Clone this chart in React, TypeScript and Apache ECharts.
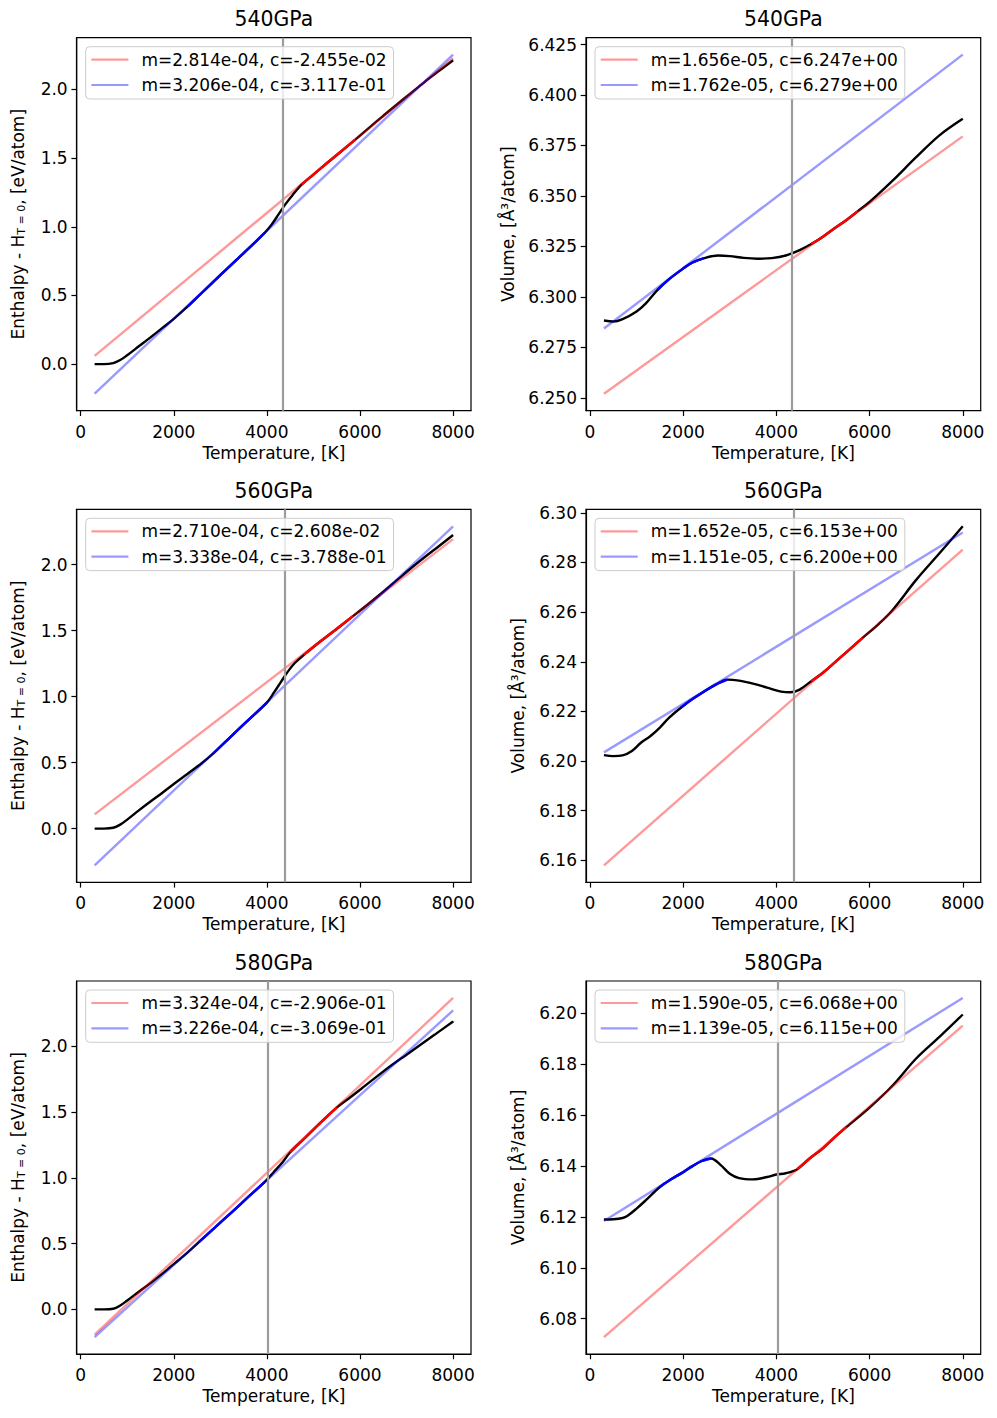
import React, { useEffect, useRef } from "react";
import * as echarts from "echarts";

// ---------- tick labels ----------
const xTicks = [0, 2000, 4000, 6000, 8000];
const hTicks = [0, 0.5, 1.0, 1.5, 2.0];
const v540Ticks = [6.25, 6.275, 6.3, 6.325, 6.35, 6.375, 6.4, 6.425];
const v560Ticks = [6.16, 6.18, 6.2, 6.22, 6.24, 6.26, 6.28, 6.3];
const v580Ticks = [6.08, 6.1, 6.12, 6.14, 6.16, 6.18, 6.2];

const titles = ["540GPa", "560GPa", "580GPa"];

// ---------- 540 GPa ----------
const temp540H = [300, 500, 700, 850, 1000, 1250, 1500, 1750, 2000, 2300, 2600, 3000, 3400, 3700, 3950, 4100, 4250, 4400, 4550, 4750, 5000, 5300, 5600, 5900, 6200, 6500, 6800, 7100, 7400, 7700, 8000];
const enth540 = [0.0, 0.0, 0.008, 0.03, 0.065, 0.13, 0.195, 0.262, 0.33, 0.42, 0.518, 0.648, 0.776, 0.872, 0.955, 1.015, 1.09, 1.165, 1.23, 1.308, 1.38, 1.466, 1.55, 1.635, 1.722, 1.808, 1.892, 1.975, 2.057, 2.135, 2.212];
const temp540V = [300, 500, 700, 1000, 1200, 1450, 1700, 2000, 2200, 2450, 2750, 3000, 3300, 3600, 3900, 4200, 4500, 4750, 5000, 5250, 5500, 5750, 6000, 6500, 7000, 7500, 8000];
const vol540 = [6.2883, 6.2878, 6.289, 6.2928, 6.2968, 6.3035, 6.3088, 6.314, 6.317, 6.3192, 6.3205, 6.3202, 6.3193, 6.3189, 6.3192, 6.3205, 6.3232, 6.3262, 6.3298, 6.334, 6.338, 6.3425, 6.347, 6.3577, 6.3692, 6.38, 6.3882];

// ---------- 560 GPa ----------
const temp560H = [300, 500, 700, 850, 1000, 1250, 1500, 1750, 2000, 2300, 2600, 2850, 3200, 3600, 4000, 4150, 4300, 4450, 4600, 4800, 5100, 5450, 5850, 6200, 6500, 6800, 7100, 7400, 7700, 8000];
const enth560 = [0.0, 0.0, 0.006, 0.03, 0.068, 0.138, 0.205, 0.27, 0.338, 0.416, 0.495, 0.57, 0.688, 0.822, 0.955, 1.03, 1.11, 1.19, 1.255, 1.318, 1.405, 1.5, 1.61, 1.708, 1.795, 1.885, 1.975, 2.06, 2.142, 2.225];
const temp560V = [300, 500, 700, 900, 1100, 1300, 1500, 1700, 1950, 2200, 2450, 2700, 2950, 3200, 3500, 3800, 4100, 4300, 4500, 4750, 5000, 5250, 5500, 5850, 6200, 6500, 7000, 7500, 8000];
const vol560 = [6.2024, 6.202, 6.2023, 6.2041, 6.2075, 6.2101, 6.2135, 6.2175, 6.2215, 6.225, 6.228, 6.2308, 6.2328, 6.2324, 6.2312, 6.2296, 6.228, 6.2277, 6.2288, 6.2322, 6.2356, 6.2397, 6.2438, 6.2496, 6.2553, 6.261, 6.273, 6.2837, 6.2946];

// ---------- 580 GPa ----------
const temp580H = [300, 500, 700, 850, 1000, 1250, 1500, 1750, 2000, 2250, 2550, 2900, 3250, 3600, 3950, 4150, 4350, 4500, 4800, 5100, 5500, 5800, 6100, 6400, 6700, 7000, 7300, 7600, 8000];
const enth580 = [0.0, 0.0, 0.005, 0.03, 0.068, 0.135, 0.2, 0.27, 0.345, 0.418, 0.515, 0.628, 0.74, 0.855, 0.968, 1.045, 1.125, 1.195, 1.298, 1.402, 1.535, 1.615, 1.698, 1.782, 1.862, 1.937, 2.013, 2.088, 2.19];
const temp580V = [300, 500, 700, 800, 1000, 1200, 1500, 1750, 2000, 2200, 2400, 2600, 2800, 3000, 3200, 3500, 3800, 4000, 4200, 4450, 4700, 5000, 5250, 5500, 6000, 6500, 7000, 7500, 8000];
const vol580 = [6.119, 6.1191, 6.1196, 6.1204, 6.1233, 6.1266, 6.1318, 6.1349, 6.1376, 6.14, 6.142, 6.143, 6.1405, 6.137, 6.1353, 6.1348, 6.1357, 6.1367, 6.1372, 6.1388, 6.1428, 6.147, 6.1513, 6.1553, 6.163, 6.1718, 6.1823, 6.1908, 6.1996];

// ---------- fit lines (endpoints at 300 K and 8000 K) ----------
const fitT = [300, 8000];
const redFit540H = [0.0599, 2.2267];
const blueFit540H = [-0.2155, 2.2531];
const redFit540V = [6.252, 6.3795];
const blueFit540V = [6.2843, 6.42];
const redFit560H = [0.1074, 2.1941];
const blueFit560H = [-0.2787, 2.2916];
const redFit560V = [6.158, 6.2852];
const blueFit560V = [6.2035, 6.2921];
const redFit580H = [-0.1909, 2.3686];
const blueFit580H = [-0.2101, 2.2739];
const redFit580V = [6.0728, 6.1952];
const blueFit580V = [6.1184, 6.2061];

const redLabels = ["m=2.814e-04, c=-2.455e-02", "m=1.656e-05, c=6.247e+00", "m=2.710e-04, c=2.608e-02", "m=1.652e-05, c=6.153e+00", "m=3.324e-04, c=-2.906e-01", "m=1.590e-05, c=6.068e+00"];
const blueLabels = ["m=3.206e-04, c=-3.117e-01", "m=1.762e-05, c=6.279e+00", "m=3.338e-04, c=-3.788e-01", "m=1.151e-05, c=6.200e+00", "m=3.226e-04, c=-3.069e-01", "m=1.139e-05, c=6.115e+00"];

// fit ranges (highlighted segments of the data curve)
const blueRanges = [[2300, 3950], [1450, 2450], [2850, 4000], [1950, 2950], [2550, 3950], [1500, 2600]];
const redRanges = [[4750, 5900], [4750, 5750], [4800, 5850], [4750, 5850], [4500, 5500], [4450, 5500]];

// transition temperature markers
const vlines = [4337, 4337, 4378, 4378, 4020, 4020];

const FONT = "DejaVu Sans";
const FS = 17;
const TITLE_FS = 20.4;

type Panel = {
  title: string;
  kind: "H" | "V";
  temps: number[];
  vals: number[];
  redFit: number[];
  blueFit: number[];
  ticks: number[];
  dec: number;
};

const panels: Panel[] = [
  { title: titles[0], kind: "H", temps: temp540H, vals: enth540, redFit: redFit540H, blueFit: blueFit540H, ticks: hTicks, dec: 1 },
  { title: titles[0], kind: "V", temps: temp540V, vals: vol540, redFit: redFit540V, blueFit: blueFit540V, ticks: v540Ticks, dec: 3 },
  { title: titles[1], kind: "H", temps: temp560H, vals: enth560, redFit: redFit560H, blueFit: blueFit560H, ticks: hTicks, dec: 1 },
  { title: titles[1], kind: "V", temps: temp560V, vals: vol560, redFit: redFit560V, blueFit: blueFit560V, ticks: v560Ticks, dec: 2 },
  { title: titles[2], kind: "H", temps: temp580H, vals: enth580, redFit: redFit580H, blueFit: blueFit580H, ticks: hTicks, dec: 1 },
  { title: titles[2], kind: "V", temps: temp580V, vals: vol580, redFit: redFit580V, blueFit: blueFit580V, ticks: v580Ticks, dec: 2 },
];

const GRID_LEFT = [76.7, 586];
const GRID_W = [394.3, 394.7];
const GRID_TOP = [37.7, 509.3, 981];
const GRID_H = 373;
const LW = 2.4;

function buildOption() {
  const grid: any[] = [];
  const xAxis: any[] = [];
  const yAxis: any[] = [];
  const series: any[] = [];
  const title: any[] = [];
  const legend: any[] = [];

  panels.forEach((p, i) => {
    const col = i % 2;
    const row = Math.floor(i / 2);
    const left = GRID_LEFT[col];
    const top = GRID_TOP[row];
    const w = GRID_W[col];
    grid.push({ left, top, width: w, height: GRID_H, show: true, borderColor: "#000", borderWidth: 1.2, backgroundColor: "transparent", containLabel: false });

    const allY = [...p.vals, ...p.redFit, ...p.blueFit];
    const ymin0 = Math.min(...allY);
    const ymax0 = Math.max(...allY);
    const pad = (ymax0 - ymin0) * 0.05;
    const xpad = (8000 - 300) * 0.05;

    xAxis.push({
      type: "value",
      gridIndex: i,
      min: 300 - xpad,
      max: 8000 + xpad,
      splitLine: { show: false },
      axisLine: { show: true, onZero: false, lineStyle: { color: "#000", width: 1.2 } },
      axisTick: { show: true, length: 5.3, customValues: xTicks, lineStyle: { color: "#000", width: 1.2 } },
      axisLabel: { customValues: xTicks, fontSize: FS, color: "#000", fontFamily: FONT, margin: 12.5, formatter: (v: number) => String(Math.round(v)) },
      name: "Temperature, [K]",
      nameLocation: "middle",
      nameGap: 33.5,
      nameTextStyle: { fontSize: FS, color: "#000", fontFamily: FONT },
    });

    const yName = p.kind === "H" ? "{a|Enthalpy - H}{s|T = 0}{a|, [eV/atom]}" : "Volume, [Å³/atom]";
    yAxis.push({
      type: "value",
      gridIndex: i,
      min: ymin0 - pad,
      max: ymax0 + pad,
      splitLine: { show: false },
      axisLine: { show: true, onZero: false, lineStyle: { color: "#000", width: 1.2 } },
      axisTick: { show: true, length: 5.3, customValues: p.ticks, lineStyle: { color: "#000", width: 1.2 } },
      axisLabel: { customValues: p.ticks, fontSize: FS, color: "#000", fontFamily: FONT, margin: 9, formatter: (v: number) => v.toFixed(p.dec) },
      name: yName,
      nameLocation: "middle",
      nameGap: p.kind === "H" ? 50 : p.dec === 3 ? 70 : 60,
      nameTextStyle: {
        fontSize: FS,
        color: "#000",
        fontFamily: FONT,
        rich: {
          a: { fontSize: FS, color: "#000", fontFamily: FONT },
          s: { fontSize: 11, color: "#000", fontFamily: FONT, verticalAlign: "bottom", padding: [3, 0, 0, 0] },
        },
      },
    });

    title.push({
      text: p.title,
      left: left + w / 2,
      top: row === 0 ? 9 : row === 1 ? 480.5 : 952.5,
      textAlign: "center",
      padding: 0,
      textStyle: { fontSize: TITLE_FS, fontWeight: "normal", color: "#000", fontFamily: FONT },
    });

    const curve = p.temps.map((t, k) => [t, p.vals[k]]);
    const br = blueRanges[i];
    const rr = redRanges[i];
    const blueSeg = curve.filter((d) => d[0] >= br[0] && d[0] <= br[1]);
    const redSeg = curve.filter((d) => d[0] >= rr[0] && d[0] <= rr[1]);

    const common = { xAxisIndex: i, yAxisIndex: i, showSymbol: false, symbol: "none", silent: true, smooth: 0.35 };
    series.push({ ...common, type: "line", name: "data" + i, data: curve, lineStyle: { color: "#000", width: LW }, itemStyle: { color: "#000" }, z: 2 });
    series.push({ ...common, type: "line", name: "blueSeg" + i, data: blueSeg, lineStyle: { color: "#0000ff", width: LW }, itemStyle: { color: "#0000ff" }, z: 3 });
    series.push({ ...common, type: "line", name: "redSeg" + i, data: redSeg, lineStyle: { color: "#ff0000", width: LW }, itemStyle: { color: "#ff0000" }, z: 3 });
    series.push({
      ...common,
      smooth: false,
      type: "line",
      name: redLabels[i],
      data: fitT.map((t, k) => [t, p.redFit[k]]),
      lineStyle: { color: "rgba(255,0,0,0.4)", width: LW },
      itemStyle: { color: "rgba(255,0,0,0.4)" },
      z: 4,
    });
    series.push({
      ...common,
      smooth: false,
      type: "line",
      name: blueLabels[i],
      data: fitT.map((t, k) => [t, p.blueFit[k]]),
      lineStyle: { color: "rgba(0,0,255,0.4)", width: LW },
      itemStyle: { color: "rgba(0,0,255,0.4)" },
      z: 4,
      markLine: {
        silent: true,
        symbol: ["none", "none"],
        label: { show: false },
        lineStyle: { color: "#9c9c9c", width: 2.2, type: "solid" },
        data: [{ xAxis: vlines[i] }],
        z: 5,
      },
    });

    legend.push({
      data: [redLabels[i], blueLabels[i]],
      orient: "vertical",
      left: left + 9,
      top: top + 9,
      icon: "rect",
      itemWidth: 37,
      itemHeight: 2.2,
      itemGap: 7.3,
      padding: [4, 7, 5, 5.7],
      borderColor: "#cccccc",
      borderWidth: 1,
      borderRadius: 4,
      backgroundColor: "rgba(255,255,255,0.8)",
      selectedMode: false,
      z: 10,
      textStyle: { fontSize: FS, color: "#000", fontFamily: FONT, lineHeight: 18, padding: [0, 0, 0, 8] },
    });
  });

  return {
    animation: false,
    backgroundColor: "#ffffff",
    textStyle: { fontFamily: FONT },
    title,
    legend,
    grid,
    xAxis,
    yAxis,
    series,
  };
}

export default function App() {
  const ref = useRef<HTMLDivElement>(null);
  useEffect(() => {
    if (!ref.current) return;
    const chart = echarts.init(ref.current, undefined, { renderer: "svg" });
    chart.setOption(buildOption() as any);
    return () => chart.dispose();
  }, []);
  return <div ref={ref} style={{ position: "absolute", left: 0, top: 0, width: 997, height: 1418, background: "#fff" }} />;
}
